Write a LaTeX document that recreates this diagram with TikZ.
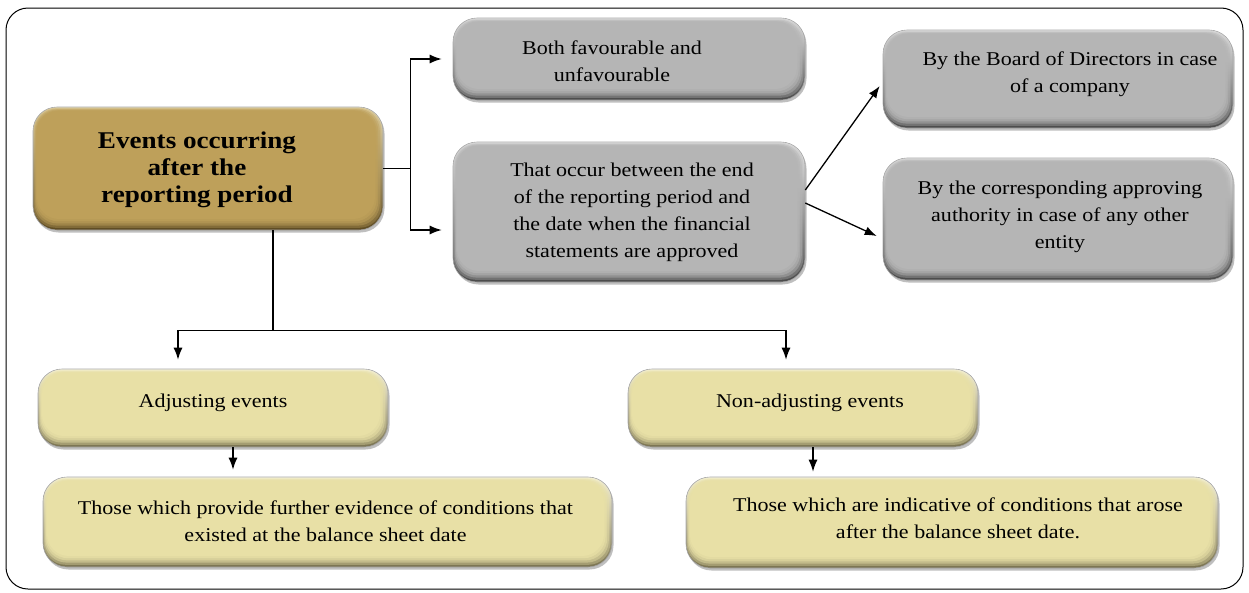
\documentclass[tikz,border=0pt]{standalone}
\usepackage{fontspec}
\setmainfont[FakeStretch=1.13]{Liberation Serif}
\usetikzlibrary{calc,shadows,arrows.meta}
\definecolor{goldB}{HTML}{BEA05A}
\definecolor{goldL}{HTML}{E8DCB4}
\definecolor{goldD}{HTML}{5E4B22}
\definecolor{greyB}{HTML}{B5B5B5}
\definecolor{greyL}{HTML}{E8E8E8}
\definecolor{greyD}{HTML}{4A4A4A}
\definecolor{yelB}{HTML}{E8E0A6}
\definecolor{yelL}{HTML}{F8F5E0}
\definecolor{yelD}{HTML}{7A7350}
\newcommand\mv[3]{\raisebox{#2}[\height][\depth]{\hspace*{#1}\begin{tabular}{@{}c@{}}#3\end{tabular}\hspace*{-#1}}}
\tikzset{
  bevel/.style n args={3}{rounded corners=24pt, draw=black!35, line width=0.6pt,
    top color=#2, bottom color=#3, align=center, inner sep=0pt,
    drop shadow={shadow xshift=1.5pt, shadow yshift=-2.5pt, opacity=0.25, fill=black},
    path picture={
      \foreach \k/\op in {1/0.35,2/0.45,3/0.55,4/0.7,5/1}{
        \fill[#1, fill opacity=\op, rounded corners=22pt]
          ($(path picture bounding box.south west)+(\k*0.8pt,\k*2.2pt)$) rectangle
          ($(path picture bounding box.north east)+(-\k*1.6pt,-\k*0.8pt)$);}}},
  goldbox/.style={bevel={goldB}{goldL}{goldD}, font=\fontsize{24}{27}\selectfont\bfseries},
  greybox/.style={bevel={greyB}{greyL}{greyD}, font=\fontsize{19.5}{27}\selectfont},
  yelbox/.style={bevel={yelB}{yelL}{yelD}, font=\fontsize{19.5}{27}\selectfont},
  conn/.style={line width=1.3pt, black},
  arr/.style={conn, -{Latex[length=12pt,width=9pt]}},
}
\begin{document}
\begin{tikzpicture}[x=1pt,y=-1pt]
\useasboundingbox (0,0) rectangle (1249,592);
\draw[line width=1pt, rounded corners=22pt] (6,8) rectangle (1243,589);

\node[goldbox, minimum width=350pt, minimum height=123pt] (main) at (208,168.5)
  {\mv{-11pt}{-2pt}{Events occurring\\after the\\reporting period}};
\node[greybox, minimum width=352pt, minimum height=82pt] (g1) at (629,59)
  {\mv{-17pt}{-4pt}{Both favourable and\\unfavourable}};
\node[greybox, minimum width=352pt, minimum height=140pt] (g2) at (629,212)
  {\mv{3pt}{0pt}{That occur between the end\\of the reporting period and\\the date when the financial\\statements are approved}};
\node[greybox, minimum width=350pt, minimum height=98pt] (g3) at (1058,79)
  {\mv{12pt}{5pt}{By the Board of Directors in case\\of a company}};
\node[greybox, minimum width=350pt, minimum height=122pt] (g4) at (1058,219)
  {\mv{2pt}{3pt}{By the corresponding approving\\authority in case of any other\\entity}};
\node[yelbox, minimum width=350pt, minimum height=78pt] (y1) at (213,408)
  {\mv{0pt}{6pt}{Adjusting events}};
\node[yelbox, minimum width=350pt, minimum height=78pt] (y2) at (803,408)
  {\mv{7pt}{6pt}{Non-adjusting events}};
\node[yelbox, minimum width=569pt, minimum height=90pt] (y3) at (327.5,522)
  {\mv{-2pt}{-1pt}{Those which provide further evidence of conditions that\\existed at the balance sheet date}};
\node[yelbox, minimum width=532pt, minimum height=91pt] (y4) at (952,522.5)
  {\mv{6pt}{3pt}{Those which are indicative of conditions that arose\\after the balance sheet date.}};

% main -> grey boxes
\draw[conn] (main.east) -- ++(27,0) coordinate (j1);
\draw[conn] (j1 |- g1.west) -- (j1 |- {$(g2.west)+(0,18)$});
\draw[arr, shorten >=11pt] (j1 |- g1.west) -- (g1.west);
\draw[arr, shorten >=11pt] (j1 |- {$(g2.west)+(0,18)$}) -- ($(g2.west)+(0,18)$);

% g2 -> g3, g4
\draw[arr] ($(g2.east)+(0,-22)$) -- ($(g3.west)+(-3,7)$);
\draw[arr] ($(g2.east)+(0,-9)$) -- ($(g4.west)+(-6,17)$);

% main -> y1, y2
\coordinate (ms) at ($(main.south)+(65,0)$);
\coordinate (hb) at ($(ms)+(0,100)$);
\draw[conn] (ms) -- (hb);
\draw[arr, shorten >=9pt] (hb) -| ($(y1.north)+(-35,0)$);
\draw[arr, shorten >=9pt] (hb) -| ($(y2.north)+(-17,0)$);

% y1 -> y3, y2 -> y4
\coordinate (a1) at ($(y1.south)+(20,0)$);
\draw[arr, shorten >=7pt] (a1) -- (a1 |- y3.north);
\coordinate (a2) at ($(y2.south)+(10,0)$);
\draw[arr, shorten >=5pt] (a2) -- (a2 |- y4.north);
\end{tikzpicture}
\end{document}
